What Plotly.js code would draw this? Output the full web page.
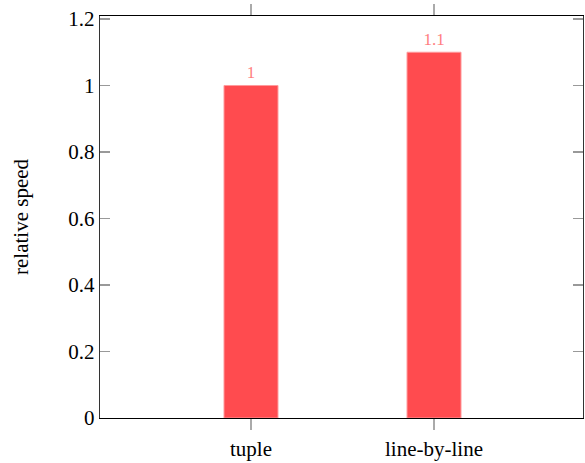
<!DOCTYPE html>
<html>
<head>
<meta charset="utf-8">
<script src="https://cdn.plot.ly/plotly-3.0.1.min.js"></script>
<style>
html,body{margin:0;padding:0;background:#fff;}
#chart{width:585px;height:463px;}
</style>
</head>
<body>
<div id="chart"></div>
<script>
const categories = ["tuple", "line-by-line"];
const speeds = [1, 1.1];
const labels = ["1", "1.1"];

const serifFont = "Liberation Serif";

const trace = {
  type: "bar",
  x: categories,
  y: speeds,
  text: labels,
  textposition: "outside",
  cliponaxis: false,
  textfont: {family: serifFont, size: 17, color: "#ff7f81"},
  width: 0.295,
  marker: {color: "#ff4b4f", line: {color: "#ff9a9c", width: 1}},
  hoverinfo: "none"
};

const layout = {
  width: 585,
  height: 463,
  margin: {l: 100, r: 2, t: 16, b: 45},
  paper_bgcolor: "#fff",
  plot_bgcolor: "#fff",
  showlegend: false,
  xaxis: {
    type: "category",
    range: [-0.825, 1.814],
    showline: true, linecolor: "#000", linewidth: 1.3,
    mirror: "ticks",
    ticks: "outside", ticklen: 11, tickcolor: "#aaa", tickwidth: 1.3,
    showgrid: false, zeroline: false,
    tickfont: {family: serifFont, size: 21, color: "#000"}
  },
  yaxis: {
    range: [0, 1.209],
    dtick: 0.2, tick0: 0,
    showline: true, linecolor: "#333", linewidth: 1.3,
    mirror: "ticks",
    ticks: "inside", ticklen: 10, tickcolor: "#999", tickwidth: 1.3,
    showgrid: false, zeroline: false,
    tickfont: {family: serifFont, size: 21, color: "#000"},
    title: {text: "relative speed", font: {family: serifFont, size: 21, color: "#000"}, standoff: 34}
  }
};

Plotly.newPlot("chart", [trace], layout, {staticPlot: true, displayModeBar: false});
</script>
</body>
</html>
